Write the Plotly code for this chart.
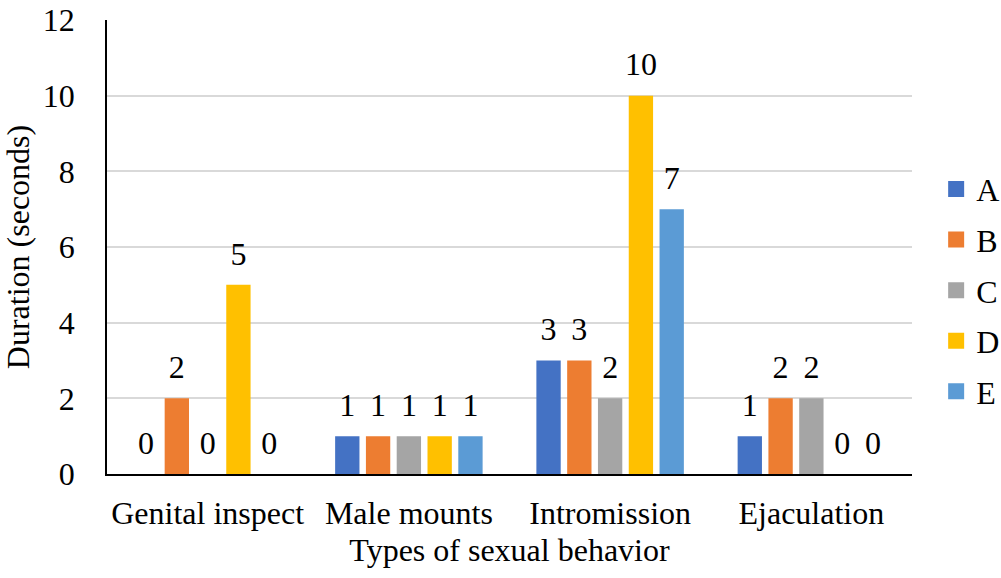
import plotly.graph_objects as go

categories = ["Genital inspect", "Male mounts", "Intromission", "Ejaculation"]
series_names = ["A", "B", "C", "D", "E"]
values_a = [0, 1, 3, 1]
values_b = [2, 1, 3, 2]
values_c = [0, 1, 2, 2]
values_d = [5, 1, 10, 0]
values_e = [0, 1, 7, 0]
series_values = [values_a, values_b, values_c, values_d, values_e]
colors = ["#4472C4", "#ED7D31", "#A5A5A5", "#FFC000", "#5B9BD5"]
y_ticks = [0, 2, 4, 6, 8, 10, 12]

FONT = "Liberation Serif"
FS = 32

fig = go.Figure()
for name, vals, col in zip(series_names, series_values, colors):
    fig.add_trace(go.Bar(
        name=name, x=categories, y=vals,
        marker=dict(color=col, line=dict(width=0)),
        offsetgroup=name, legendgroup=name, showlegend=False,
        hoverinfo="skip",
    ))
# value labels, grouped like the bars, sitting above each bar
for name, vals in zip(series_names, series_values):
    fig.add_trace(go.Scatter(
        x=categories, y=vals, mode="markers+text",
        text=[str(v) for v in vals], textposition="top center",
        textfont=dict(family=FONT, size=FS, color="black"),
        marker=dict(size=18, opacity=0),
        offsetgroup=name, showlegend=False, hoverinfo="skip",
        cliponaxis=False,
    ))
# legend entries with larger square swatches
for name, col in zip(series_names, colors):
    fig.add_trace(go.Scatter(
        x=[None], y=[None], mode="markers", name=name,
        marker=dict(symbol="square", size=17, color=col),
        offsetgroup=name, legendgroup=name, hoverinfo="skip",
    ))

fig.update_layout(
    width=1001, height=578,
    margin=dict(l=107, r=89, t=20, b=104, autoexpand=False),
    paper_bgcolor="white", plot_bgcolor="white",
    font=dict(family=FONT, size=FS, color="black"),
    barmode="group", bargap=0.235, bargroupgap=0.21,
    scattermode="group", scattergap=0.235,
    showlegend=True,
    legend=dict(x=1.03, y=0.405, xanchor="left", yanchor="middle",
                font=dict(family=FONT, size=FS, color="black"),
                traceorder="grouped", tracegroupgap=6,
                itemwidth=30, bgcolor="rgba(0,0,0,0)"),
    xaxis=dict(showline=True, linecolor="black", linewidth=1.5,
               ticks="", showgrid=False, ticklabelstandoff=10,
               tickfont=dict(family=FONT, size=FS),
               title=dict(text="Types of sexual behavior", standoff=8,
                          font=dict(family=FONT, size=FS))),
    yaxis=dict(range=[0, 12], tickvals=y_ticks, showline=True,
               linecolor="black", linewidth=1.5, showgrid=True,
               gridcolor="#D9D9D9", gridwidth=1.5, zeroline=False,
               ticks="", ticklabelstandoff=24,
               tickfont=dict(family=FONT, size=FS),
               title=dict(text="Duration (seconds)", standoff=5,
                          font=dict(family=FONT, size=FS))),
)

fig.write_html("out.html")
